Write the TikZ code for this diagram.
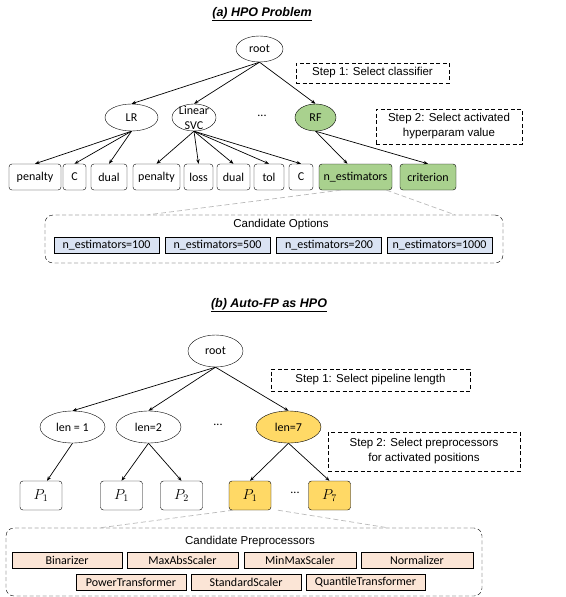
\documentclass[tikz,border=0pt]{standalone}
\usepackage{fontspec}
\setmainfont{Carlito}
\newfontfamily\arialfont{Liberation Sans}
\usetikzlibrary{shapes.geometric,arrows.meta}
\definecolor{rfgreen}{HTML}{A9D18E}
\definecolor{lenyellow}{HTML}{FFD966}
\definecolor{optblue}{HTML}{DAE3F3}
\definecolor{prepeach}{HTML}{FBE5D6}

\begin{document}
\begin{tikzpicture}[x=1pt,y=-1pt,font=\fontsize{12}{14}\selectfont,
    oval/.style={draw,ellipse,inner sep=0pt,minimum width=#1,minimum height=27pt},
    hp/.style={draw,rounded corners=3pt,inner sep=0pt,minimum height=26pt,minimum width=#1},
    pbox/.style={draw,rounded corners=3pt,inner sep=0pt,minimum height=29pt,minimum width=42pt,
      font=\fontsize{14.5}{16}\selectfont},
    opt/.style={draw,fill=optblue,inner sep=0pt,minimum height=16pt,minimum width=105pt},
    prep/.style={draw,fill=prepeach,inner sep=0pt,minimum height=16pt,minimum width=#1},
    stepbox/.style={draw,dash pattern=on 4pt off 2.5pt,inner sep=0pt,align=center,
      font=\arialfont\fontsize{11.5}{15}\selectfont},
    bigbox/.style={draw,dash pattern=on 4pt off 2.5pt,rounded corners=8pt,inner sep=0pt},
    boxtitle/.style={font=\arialfont\fontsize{11.5}{14}\selectfont},
    title/.style={font=\arialfont\bfseries\itshape\fontsize{12.5}{15}\selectfont},
    edge/.style={-{Stealth[length=4.5pt,width=3.5pt]},line width=0.7pt},
    zoomline/.style={gray!55,dash pattern=on 5pt off 3pt,line width=0.7pt}]
  \useasboundingbox (0,0) rectangle (565,597);

  % (a) HPO problem
  \node (ta) [title] at (262,14) {\underline{(a) HPO Problem}};
  \node (ra) [oval=47pt,minimum height=26pt] at (259.5,49) {root};
  \node (s1a) [stepbox,minimum width=153pt,minimum height=20pt] at (372.5,73) {Step 1: Select classifier};
  \node (lr) [oval=53pt] at (131.5,117.5) {LR};
  \node (svc) [oval=44pt,label={[align=center,inner sep=0pt,font=\fontsize{12}{15}\selectfont]center:Linear\\SVC}] at (194,117.5) {};
  \node (dta) at (262,116) {...};
  \node (rf) [oval=41pt,fill=rfgreen] at (315.5,117.5) {RF};
  \node (s2a) [stepbox,minimum width=146pt,minimum height=35pt] at (449,126.5) {Step 2: Select activated\\hyperparam value};

  \node (pen1) [hp=52pt] at (35,177) {penalty};
  \node (c1) [hp=23pt] at (74.5,177) {C};
  \node (dual1) [hp=36pt] at (109,177) {dual};
  \node (pen2) [hp=47pt] at (156.5,177) {penalty};
  \node (loss) [hp=29pt] at (198.5,177) {loss};
  \node (dual2) [hp=33pt] at (233.5,177) {dual};
  \node (tol) [hp=30pt] at (269,177) {tol};
  \node (c2) [hp=24pt] at (301,177) {C};
  \node (nest) [hp=73pt,fill=rfgreen] at (355.5,177) {n\_estimators};
  \node (crit) [hp=56pt,fill=rfgreen] at (428,177) {criterion};

  \draw[edge] (ra.south) -- (lr.north);
  \draw[edge] (ra.south) -- (svc.north);
  \draw[edge] (ra.south) -- (rf.north);
  \draw[edge] (lr.south) -- (pen1.north);
  \draw[edge] (lr.south) -- (c1.north);
  \draw[edge] (lr.south) -- (dual1.north);
  \draw[edge] (svc.south) -- (pen2.north);
  \draw[edge] (svc.south) -- (loss.north);
  \draw[edge] (svc.south) -- (dual2.north);
  \draw[edge] (svc.south) -- (tol.north);
  \draw[edge] (svc.south) -- (c2.north);
  \draw[edge] (rf.south) -- ([xshift=-8pt]nest.north);
  \draw[edge] (rf.south) -- (crit.north);

  \node (cando) [bigbox,minimum width=458pt,minimum height=48pt] at (274,239) {};
  \node (candot) [boxtitle] at (281,225) {Candidate Options};
  \node (o1) [opt] at (106.5,245) {n\_estimators=100};
  \node (o2) [opt] at (217.5,245) {n\_estimators=500};
  \node (o3) [opt] at (329,245) {n\_estimators=200};
  \node (o4) [opt] at (439.5,245) {n\_estimators=1000};
  \draw[zoomline] ([xshift=-15pt]nest.south) -- ([xshift=-126pt]cando.north);
  \draw[zoomline] ([xshift=31pt]nest.south) -- ([xshift=181pt]cando.north);

  % (b) Auto-FP as HPO
  \node (tb) [title] at (269,305) {\underline{(b) Auto-FP as HPO}};
  \node (rb) [oval=55pt,minimum height=32pt] at (215.5,351) {root};
  \node (s1b) [stepbox,minimum width=199pt,minimum height=22pt] at (370.5,380) {Step 1: Select pipeline length};
  \node (len1) [oval=65pt,minimum height=32pt] at (72.5,427) {len = 1};
  \node (len2) [oval=65pt,minimum height=32pt] at (148.5,427) {len=2};
  \node (dtb) at (218,425) {...};
  \node (len7) [oval=65pt,minimum height=32pt,fill=lenyellow] at (288.5,427) {len=7};
  \node (s2b) [stepbox,minimum width=192pt,minimum height=39pt] at (424,451.5) {Step 2: Select preprocessors\\for activated positions};

  \node (pa1) [pbox] at (41,495.5) {$P_1$};
  \node (pb1) [pbox] at (121.5,495.5) {$P_1$};
  \node (pb2) [pbox] at (181.5,495.5) {$P_2$};
  \node (pc1) [pbox,fill=lenyellow] at (250,495.5) {$P_1$};
  \node (dtc) at (295,493) {...};
  \node (pc7) [pbox,fill=lenyellow] at (329.5,495.5) {$P_7$};

  \draw[edge] (rb.south) -- (len1.north);
  \draw[edge] (rb.south) -- (len2.north);
  \draw[edge] (rb.south) -- (len7.north);
  \draw[edge] (len1.south) -- ([xshift=6pt]pa1.north);
  \draw[edge] (len2.south) -- (pb1.north);
  \draw[edge] (len2.south) -- (pb2.north);
  \draw[edge] (len7.south) -- (pc1.north);
  \draw[edge] (len7.south) -- (pc7.north);

  \node (candp) [bigbox,minimum width=476pt,minimum height=68pt] at (244,562) {};
  \node (candpt) [boxtitle] at (250,542) {Candidate Preprocessors};
  \node (bin) [prep=110pt] at (67,560) {Binarizer};
  \node (mas) [prep=111pt] at (182.5,560) {MaxAbsScaler};
  \node (mms) [prep=112pt] at (300,560) {MinMaxScaler};
  \node (nor) [prep=112pt] at (417,560) {Normalizer};
  \node (pow) [prep=110pt] at (131,582.5) {PowerTransformer};
  \node (std) [prep=110pt] at (246,582.5) {StandardScaler};
  \node (qua) [prep=119pt] at (365.5,582.5) {QuantileTransformer};
  \draw[zoomline] ([xshift=-17pt]pc1.south) -- ([xshift=-144pt]candp.north);
  \draw[zoomline] ([xshift=28pt]pc1.south) -- ([xshift=144pt]candp.north);
\end{tikzpicture}
\end{document}
